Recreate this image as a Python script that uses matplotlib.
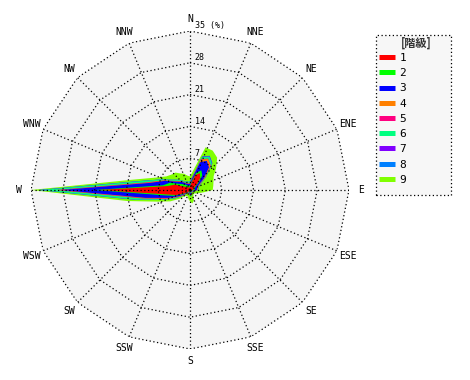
import numpy as np
import matplotlib
matplotlib.use('Agg')
import matplotlib.pyplot as plt
from matplotlib.lines import Line2D
from matplotlib.patches import Rectangle

# compass labels (16 points) and radial rings in %
directions = ['N', 'NNE', 'NE', 'ENE', 'E', 'ESE', 'SE', 'SSE',
              'S', 'SSW', 'SW', 'WSW', 'W', 'WNW', 'NW', 'NNW']
rings = [7, 14, 21, 28, 35]

# frequency (%) per class, every 10 degrees starting at N, clockwise
angles_deg = list(range(0, 360, 10))
c1 = [0.8, 1.5, 3.5, 4.3, 3.5, 2.0, 1.0, 0.8, 0.8, 0.7, 0.5, 0.4, 0.3, 0.3, 0.3, 0.3, 0.4, 0.5,
      0.4, 0.4, 0.3, 0.3, 0.4, 0.8, 1.5, 3.2, 5.5, 20.0, 5.0, 3.5, 1.5, 1.0, 0.8, 0.6, 0.6, 0.6]
c2 = [0.3, 0.4, 0.5, 0.7, 0.7, 0.5, 0.4, 0.3, 0.3, 0.3, 0.2, 0.2, 0.1, 0.1, 0.1, 0.1, 0.2, 0.2,
      0.2, 0.2, 0.1, 0.1, 0.1, 0.2, 0.4, 0.6, 1.0, 1.0, 1.0, 1.2, 1.2, 1.0, 0.8, 0.5, 0.4, 0.3]
c3 = [0.4, 0.6, 2.5, 2.4, 2.3, 1.5, 0.8, 0.6, 0.5, 0.5, 0.3, 0.2, 0.1, 0.1, 0.1, 0.1, 0.2, 0.3,
      0.3, 0.2, 0.1, 0.1, 0.2, 0.4, 0.8, 1.3, 3.5, 7.5, 3.0, 1.2, 1.0, 0.8, 0.6, 0.5, 0.5, 0.4]
c4 = [0.1, 0.1, 0.6, 0.5, 0.5, 0.3, 0.2, 0.1, 0.1, 0.1, 0.1, 0.0, 0.0, 0.0, 0.0, 0.0, 0.1, 0.1,
      0.1, 0.0, 0.0, 0.0, 0.0, 0.1, 0.2, 0.3, 0.4, 0.5, 0.4, 0.2, 0.2, 0.2, 0.1, 0.1, 0.1, 0.1]
c5 = [0.1, 0.1, 0.1, 0.1, 0.1, 0.1, 0.1, 0.1, 0.0, 0.0, 0.0, 0.0, 0.0, 0.0, 0.0, 0.0, 0.0, 0.1,
      0.1, 0.0, 0.0, 0.0, 0.1, 0.2, 0.3, 0.4, 0.3, 0.5, 0.3, 0.1, 0.1, 0.1, 0.1, 0.1, 0.1, 0.1]
c6 = [0.3, 0.3, 0.5, 0.5, 0.4, 0.3, 0.3, 0.2, 0.2, 0.2, 0.2, 0.1, 0.1, 0.1, 0.1, 0.1, 0.1, 0.2,
      0.2, 0.1, 0.1, 0.1, 0.1, 0.2, 0.4, 0.6, 1.5, 3.5, 1.5, 0.6, 0.5, 0.4, 0.4, 0.3, 0.3, 0.3]
c7 = [0.0, 0.0, 0.1, 0.1, 0.1, 0.0, 0.0, 0.0, 0.0, 0.0, 0.0, 0.0, 0.0, 0.0, 0.0, 0.0, 0.0, 0.0,
      0.0, 0.0, 0.0, 0.0, 0.0, 0.0, 0.0, 0.0, 0.1, 0.2, 0.1, 0.0, 0.0, 0.0, 0.0, 0.0, 0.0, 0.0]
c8 = [0.0, 0.0, 0.1, 0.1, 0.1, 0.0, 0.0, 0.0, 0.0, 0.0, 0.0, 0.0, 0.0, 0.0, 0.0, 0.0, 0.0, 0.0,
      0.0, 0.0, 0.0, 0.0, 0.0, 0.0, 0.0, 0.0, 0.1, 0.2, 0.1, 0.0, 0.0, 0.0, 0.0, 0.0, 0.0, 0.0]
c9 = [1.0, 1.5, 2.1, 1.3, 1.6, 2.8, 3.2, 3.4, 3.3, 3.2, 1.7, 1.1, 0.9, 0.6, 0.6, 0.9, 1.5, 1.6,
      1.2, 1.1, 0.9, 0.9, 0.9, 1.1, 1.4, 1.1, 1.6, 1.6, 1.6, 1.2, 1.5, 1.8, 2.2, 2.1, 1.8, 1.4]

class_labels = ['1', '2', '3', '4', '5', '6', '7', '8', '9']
class_colors = ['#ff0000', '#00ff00', '#0000ff', '#ff8000', '#ff0080',
                '#00ff80', '#8000ff', '#0080ff', '#80ff00']
classes = [c1, c2, c3, c4, c5, c6, c7, c8, c9]

W, H = 470, 380
fig = plt.figure(figsize=(W / 100, H / 100), dpi=100)
ax = fig.add_axes([31 / W, 31 / H, 318 / W, 318 / H], projection='polar')
ax.set_theta_zero_location('N')
ax.set_theta_direction(-1)
ax.set_ylim(0, 35)
ax.grid(False)
ax.set_xticks([])
ax.set_yticks([])
ax.spines['polar'].set_visible(False)
ax.patch.set_visible(False)

dir_theta = np.deg2rad(np.arange(len(directions)) * 22.5)
ring_theta = np.append(dir_theta, dir_theta[0])

# plot area background (16-gon)
ax.fill(ring_theta, [rings[-1]] * len(ring_theta), color='#f5f5f5', lw=0, zorder=0)

# stacked classes, biggest cumulative first
theta = np.deg2rad(np.append(angles_deg, angles_deg[0]))
cum = np.cumsum(np.array(classes), axis=0)
for k in range(len(classes) - 1, -1, -1):
    r = np.append(cum[k], cum[k][0])
    ax.fill(theta, r, color=class_colors[k], lw=0, zorder=1)

# dotted polygon grid
dots = (0, (1, 2))
for rv in rings:
    ax.plot(ring_theta, [rv] * len(ring_theta), color='black', lw=0.9, ls=dots, zorder=3)
for t in dir_theta:
    ax.plot([t, t], [0, rings[-1]], color='black', lw=0.9, ls=dots, zorder=3)

for t, name in zip(dir_theta, directions):
    ax.text(t, 37.7, name, ha='center', va='center', fontsize=7,
            family='DejaVu Sans Mono', zorder=4)

for rv in rings:
    txt = '35 (%)' if rv == 35 else str(rv)
    ax.annotate(txt, xy=(0, rv), xytext=(3.5, 0.5), textcoords='offset points',
                ha='left', va='bottom', fontsize=6, family='DejaVu Sans Mono', zorder=4)

# legend box
fig.add_artist(Rectangle((376 / W, 1 - 195 / H), 75 / W, 160 / H, transform=fig.transFigure,
                         facecolor='#f7f7f7', edgecolor='black', lw=0.9, ls=dots))
fig.text(416 / W, 1 - 43 / H, '[階級]', ha='center', va='center', fontsize=8,
         weight='bold', color='#333333', family=['Noto Sans CJK JP', 'DejaVu Sans'])
handles = [Line2D([0], [0], color=c, lw=3.6, solid_capstyle='butt') for c in class_colors]
fig.legend(handles, class_labels, loc='upper left', bbox_to_anchor=(379 / W, 1 - 53 / H),
           frameon=False, handlelength=1.45, handletextpad=0.4,
           labelspacing=0.47, borderpad=0, borderaxespad=0,
           prop={'family': 'DejaVu Sans Mono', 'size': 8})

fig.savefig('out.png', dpi=100)
